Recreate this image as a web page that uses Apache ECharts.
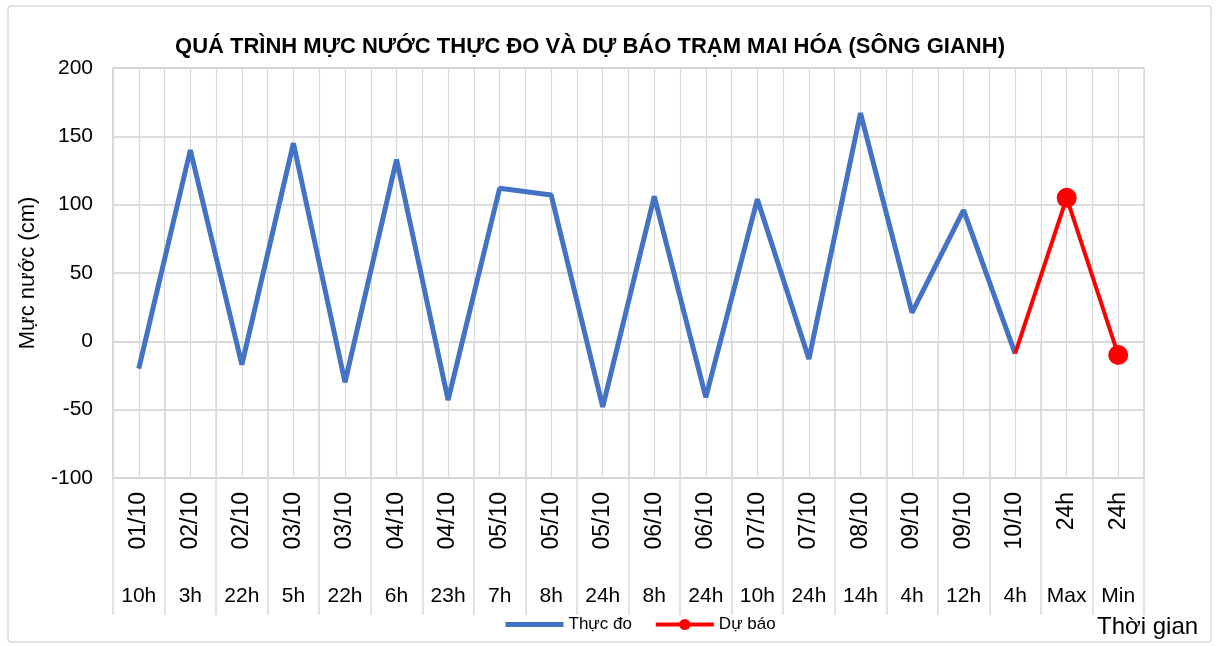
<!DOCTYPE html>
<html>
<head>
<meta charset="utf-8">
<title>Mực nước trạm Mai Hóa</title>
<script src="https://cdn.jsdelivr.net/npm/echarts@6/dist/echarts.min.js"></script>
<style>
  html, body { margin: 0; padding: 0; background: #fff; }
  #chart { width: 1217px; height: 646px; }
</style>
</head>
<body>
<div id="chart"></div>
<script>
// ngày / giờ của từng mốc
const dayLabels = ["01/10", "02/10", "02/10", "03/10", "03/10", "04/10", "04/10", "05/10", "05/10", "05/10",
  "06/10", "06/10", "07/10", "07/10", "08/10", "09/10", "09/10", "10/10", "24h", "24h"];
const hourLabels = ["10h", "3h", "22h", "5h", "22h", "6h", "23h", "7h", "8h", "24h",
  "8h", "24h", "10h", "24h", "14h", "4h", "12h", "4h", "Max", "Min"];

// mực nước thực đo (cm)
const observed = [-20, 140, -17, 145, -30, 133, -43, 112, 107, -48,
  106, -41, 104, -13, 167, 21, 96, -9, null, null];
// dự báo (cm)
const forecast = [null, null, null, null, null, null, null, null, null, null,
  null, null, null, null, null, null, null, -9, 105, -10];

const yTicks = { min: -100, max: 200, interval: 50 };

const FONT = "'Liberation Sans', Arial, sans-serif";
const GRID_COLOR = "#d9d9d9";
const firstForecast = forecast.findIndex(v => v !== null);

const chart = echarts.init(document.getElementById("chart"));

chart.setOption({
  textStyle: { fontFamily: FONT, color: "#000" },
  title: [
    {
      text: "QUÁ TRÌNH MỰC NƯỚC THỰC ĐO VÀ DỰ BÁO TRẠM MAI HÓA (SÔNG GIANH)",
      left: 585,
      textAlign: "center",
      top: 31,
      textStyle: { fontFamily: FONT, fontSize: 22, fontWeight: "bold", color: "#000" }
    },
    {
      text: "Thời gian",
      left: 1092,
      top: 610,
      textStyle: { fontFamily: FONT, fontSize: 24, fontWeight: "normal", color: "#000" }
    }
  ],
  graphic: [
    {
      type: "rect",
      shape: { x: 8, y: 6, width: 1203, height: 636, r: 3 },
      style: { fill: "none", stroke: GRID_COLOR, lineWidth: 1.5 },
      silent: true
    }
  ],
  legend: {
    left: 498,
    top: 611,
    itemWidth: 58,
    itemHeight: 14,
    itemGap: 22,
    textStyle: { fontFamily: FONT, fontSize: 17, color: "#000" },
    data: [
      { name: "Thực đo", itemStyle: { opacity: 0 }, lineStyle: { width: 5 } },
      { name: "Dự báo", lineStyle: { width: 4 } }
    ]
  },
  grid: {
    left: 113,
    right: 73,
    top: 68,
    bottom: 168,
    show: true,
    borderColor: GRID_COLOR,
    borderWidth: 1.5
  },
  xAxis: [
    {
      type: "category",
      data: dayLabels,
      position: "bottom",
      boundaryGap: true,
      axisLine: { show: true, lineStyle: { color: GRID_COLOR, width: 2 } },
      axisTick: { show: true, inside: false, interval: 0, length: 137, lineStyle: { color: GRID_COLOR, width: 1.5 } },
      axisLabel: {
        interval: 0,
        rotate: 90,
        margin: 14,
        fontSize: 23,
        fontFamily: FONT,
        color: "#000"
      },
      splitLine: { show: false }
    },
    {
      type: "category",
      data: hourLabels,
      position: "bottom",
      boundaryGap: true,
      axisLine: { show: false },
      axisTick: { show: true, inside: false, interval: 0, length: 137, lineStyle: { color: GRID_COLOR, width: 1.5 } },
      axisLabel: { interval: 0, margin: 108, fontSize: 21, fontFamily: FONT, color: "#000" },
      splitLine: { show: false }
    },
    {
      // đường lưới dọc ở cả tâm và biên mỗi cột
      type: "value",
      position: "top",
      min: 0,
      max: dayLabels.length * 2,
      interval: 1,
      axisLine: { show: false },
      axisTick: { show: false },
      axisLabel: { show: false },
      splitLine: { show: true, lineStyle: { color: GRID_COLOR, width: 1.2 } }
    }
  ],
  yAxis: {
    type: "value",
    min: yTicks.min,
    max: yTicks.max,
    interval: yTicks.interval,
    name: "Mực nước (cm)",
    nameLocation: "middle",
    nameGap: 74,
    nameTextStyle: { fontFamily: FONT, fontSize: 22, color: "#000" },
    axisLine: { show: true, lineStyle: { color: GRID_COLOR, width: 1.5 } },
    axisTick: { show: false },
    axisLabel: { margin: 20, fontSize: 21, fontFamily: FONT, color: "#000" },
    splitLine: { lineStyle: { color: "#d0d0d0", width: 1.5 } }
  },
  series: [
    {
      name: "Thực đo",
      type: "line",
      xAxisIndex: 0,
      data: observed,
      symbol: "none",
      lineStyle: { color: "#4472C4", width: 5 },
      itemStyle: { color: "#4472C4" },
      connectNulls: false
    },
    {
      name: "Dự báo",
      type: "line",
      xAxisIndex: 0,
      data: forecast,
      symbol: "circle",
      symbolSize: (val, p) => (p.dataIndex === firstForecast ? 0 : 20),
      showAllSymbol: true,
      lineStyle: { color: "#FF0000", width: 4 },
      itemStyle: { color: "#FF0000" }
    }
  ],
  animation: false
});
</script>
</body>
</html>
